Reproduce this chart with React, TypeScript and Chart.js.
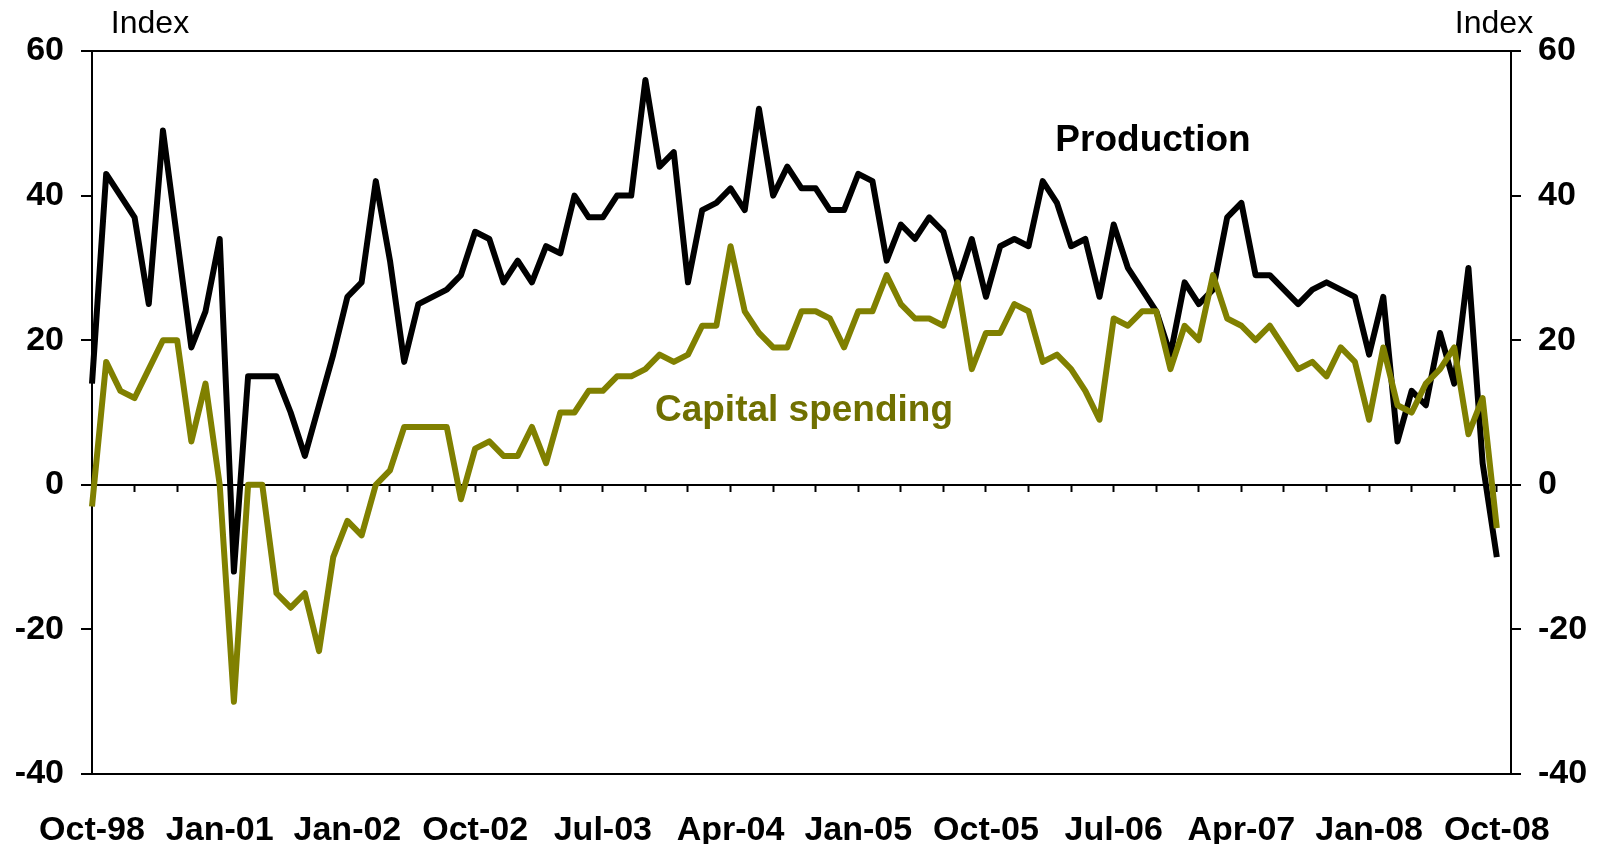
import React, { useEffect, useRef } from 'react';
import { Chart, registerables } from 'chart.js';

Chart.register(...registerables);

// Tick labels shown on the category axis (one every 9 points)
const tickLabels = ['Oct-98', 'Jan-01', 'Jan-02', 'Oct-02', 'Jul-03', 'Apr-04', 'Jan-05', 'Oct-05', 'Jul-06', 'Apr-07', 'Jan-08', 'Oct-08'];
const labelEvery = 9;
const minorTickEvery = 3;

// Series values (index)
const production = [
  14, 43, 40, 37, 25, 49, 34, 19, 24, 34,
  -12, 15, 15, 15, 10, 4, 11, 18, 26, 28,
  42, 31, 17, 25, 26, 27, 29, 35, 34, 28,
  31, 28, 33, 32, 40, 37, 37, 40, 40, 56,
  44, 46, 28, 38, 39, 41, 38, 52, 40, 44,
  41, 41, 38, 38, 43, 42, 31, 36, 34, 37,
  35, 28, 34, 26, 33, 34, 33, 42, 39, 33,
  34, 26, 36, 30, 27, 24, 18, 28, 25, 27,
  37, 39, 29, 29, 27, 25, 27, 28, 27, 26,
  18, 26, 6, 13, 11, 21, 14, 30, 3, -10,
];

const capitalSpending = [
  -3, 17, 13, 12, 16, 20, 20, 6, 14, 0,
  -30, 0, 0, -15, -17, -15, -23, -10, -5, -7,
  0, 2, 8, 8, 8, 8, -2, 5, 6, 4,
  4, 8, 3, 10, 10, 13, 13, 15, 15, 16,
  18, 17, 18, 22, 22, 33, 24, 21, 19, 19,
  24, 24, 23, 19, 24, 24, 29, 25, 23, 23,
  22, 28, 16, 21, 21, 25, 24, 17, 18, 16,
  13, 9, 23, 22, 24, 24, 16, 22, 20, 29,
  23, 22, 20, 22, 19, 16, 17, 15, 19, 17,
  9, 19, 11, 10, 14, 16, 19, 7, 12, -6,
];

// Category positions (one extra empty slot at the right end of the axis)
const categories = Array.from({ length: production.length + 1 }, (_, i) => String(i));

const yMin = -40;
const yMax = 60;
const yStep = 20;

const FONT = '"Liberation Sans", Arial, Helvetica, sans-serif';
const OLIVE = '#808000';
const OLIVE_TEXT = '#707000';

const textPlugin = {
  id: 'annotText',
  afterDraw(chart: any) {
    const ctx = chart.ctx;
    ctx.save();
    ctx.textBaseline = 'alphabetic';
    ctx.textAlign = 'center';
    ctx.fillStyle = '#000';
    ctx.font = `32px ${FONT}`;
    ctx.fillText('Index', 150, 33);
    ctx.fillText('Index', 1494, 33);
    ctx.font = `bold 37px ${FONT}`;
    ctx.fillText('Production', 1153, 151);
    ctx.fillStyle = OLIVE_TEXT;
    ctx.font = `bold 37px ${FONT}`;
    ctx.fillText('Capital spending', 804, 421);
    ctx.restore();
  },
};

export default function App() {
  const canvasRef = useRef<HTMLCanvasElement | null>(null);

  useEffect(() => {
    document.body.style.margin = '0';
    document.body.style.overflow = 'hidden';
    const canvas = canvasRef.current;
    if (!canvas) return;

    const tickFont = { family: FONT, size: 34, weight: 'bold' as const };
    const borderGrid = (ctx: any) =>
      ctx.tick && (ctx.tick.value === yMax || ctx.tick.value === yMin) ? '#000' : 'rgba(0,0,0,0)';

    const chart = new Chart(canvas, {
      type: 'line',
      data: {
        labels: categories,
        datasets: [
          {
            label: 'Capital spending',
            data: capitalSpending,
            borderColor: OLIVE,
            backgroundColor: OLIVE,
            borderWidth: 6,
            pointRadius: 0,
            tension: 0,
            fill: false,
            borderJoinStyle: 'round',
            xAxisID: 'x',
            yAxisID: 'y',
          },
          {
            label: 'Production',
            data: production,
            borderColor: '#000',
            backgroundColor: '#000',
            borderWidth: 6,
            pointRadius: 0,
            tension: 0,
            fill: false,
            borderJoinStyle: 'round',
            xAxisID: 'x',
            yAxisID: 'y',
          },
        ],
      },
      options: {
        animation: false,
        responsive: false,
        maintainAspectRatio: false,
        layout: { padding: { top: 51, left: 0, right: 0, bottom: 0 } },
        plugins: {
          legend: { display: false },
          tooltip: { enabled: false },
          title: { display: false },
        },
        scales: {
          x: {
            type: 'category',
            position: 'bottom',
            offset: false,
            grid: { display: false, drawTicks: false },
            border: { display: false },
            ticks: {
              autoSkip: false,
              maxRotation: 0,
              minRotation: 0,
              padding: 36,
              color: '#000',
              font: tickFont,
              callback: (_v: any, i: number) =>
                i % labelEvery === 0 && tickLabels[i / labelEvery] ? tickLabels[i / labelEvery] : '',
            },
            afterFit: (s: any) => {
              s.height = 70;
            },
          },
          x0: {
            type: 'category',
            position: { y: 0 },
            offset: false,
            grid: {
              display: true,
              drawOnChartArea: false,
              drawTicks: true,
              tickLength: 6,
              tickWidth: 2,
              tickColor: (ctx: any) => (ctx.index % minorTickEvery === 0 ? '#000' : 'rgba(0,0,0,0)'),
            },
            border: { display: true, color: '#000', width: 2 },
            ticks: { display: false, autoSkip: false },
          },
          y: {
            type: 'linear',
            position: 'left',
            min: yMin,
            max: yMax,
            ticks: { stepSize: yStep, color: '#000', font: tickFont, padding: 17 },
            grid: {
              drawOnChartArea: true,
              color: borderGrid,
              lineWidth: 2,
              tickColor: '#000',
              tickLength: 11,
              tickWidth: 2,
            },
            border: { display: true, color: '#000', width: 2 },
            afterFit: (s: any) => {
              s.width = 92;
            },
          },
          y2: {
            type: 'linear',
            position: 'right',
            min: yMin,
            max: yMax,
            ticks: { stepSize: yStep, color: '#000', font: tickFont, padding: 17 },
            grid: {
              drawOnChartArea: false,
              color: '#000',
              lineWidth: 2,
              tickColor: '#000',
              tickLength: 10,
              tickWidth: 2,
            },
            border: { display: true, color: '#000', width: 2 },
            afterFit: (s: any) => {
              s.width = 91;
            },
          },
        },
      } as any,
      plugins: [textPlugin],
    });

    return () => {
      chart.destroy();
    };
  }, []);

  return (
    <div style={{ width: 1602, height: 844, position: 'relative', background: '#fff' }}>
      <canvas ref={canvasRef} width={1602} height={844} style={{ display: 'block', width: 1602, height: 844 }} />
    </div>
  );
}
